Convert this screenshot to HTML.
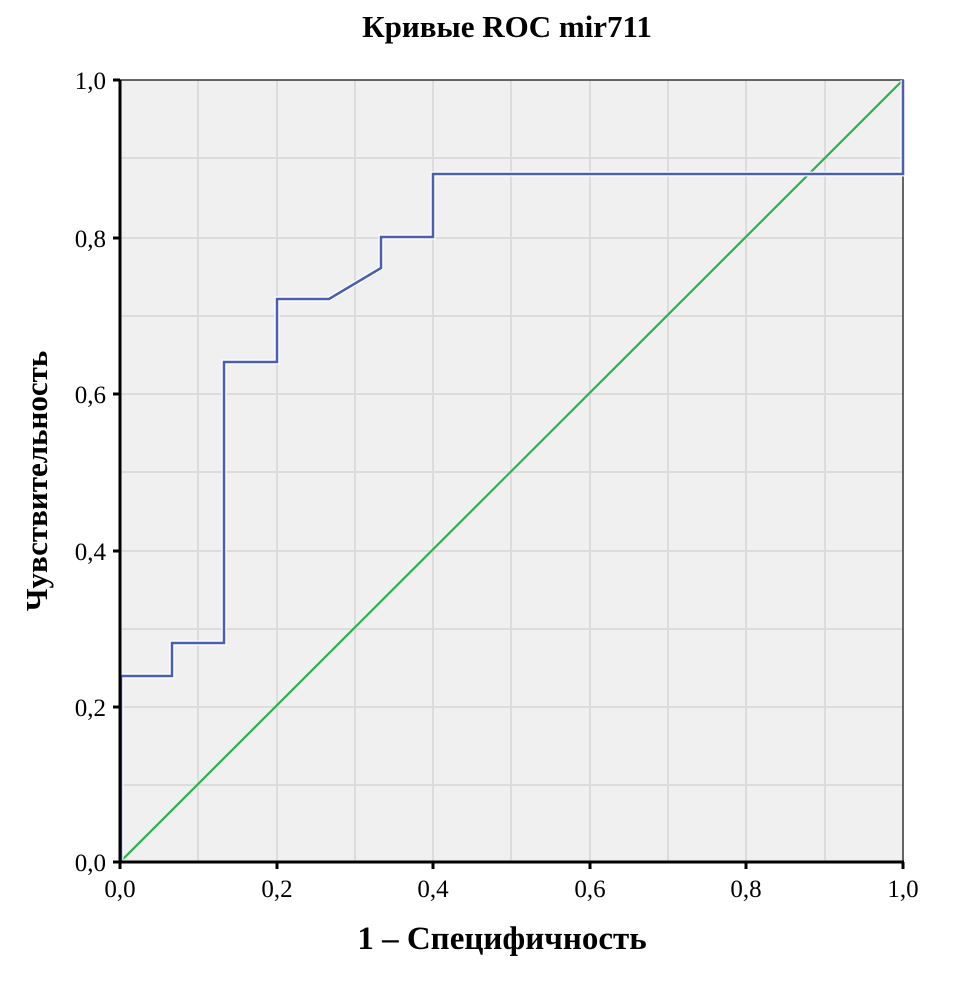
<!DOCTYPE html><html><head><style>body{margin:0;background:#fff}</style></head><body>
<svg width="980" height="976" xmlns="http://www.w3.org/2000/svg" font-family="Liberation Serif, serif">
<rect width="980" height="976" fill="#fff"/>
<text x="507" y="37" text-anchor="middle" font-size="31" font-weight="bold">Кривые ROC mir711</text>
<rect x="120" y="80" width="783" height="782" fill="#f0f0f0"/>
<g stroke="#dcdcdc" stroke-width="2">
<line x1="198" y1="80" x2="198" y2="862"/><line x1="277" y1="80" x2="277" y2="862"/><line x1="355" y1="80" x2="355" y2="862"/><line x1="433" y1="80" x2="433" y2="862"/><line x1="511" y1="80" x2="511" y2="862"/><line x1="590" y1="80" x2="590" y2="862"/><line x1="668" y1="80" x2="668" y2="862"/><line x1="746" y1="80" x2="746" y2="862"/><line x1="825" y1="80" x2="825" y2="862"/>
<line x1="120" y1="158" x2="903" y2="158"/><line x1="120" y1="238" x2="903" y2="238"/><line x1="120" y1="316" x2="903" y2="316"/><line x1="120" y1="394" x2="903" y2="394"/><line x1="120" y1="472" x2="903" y2="472"/><line x1="120" y1="551" x2="903" y2="551"/><line x1="120" y1="629" x2="903" y2="629"/><line x1="120" y1="707" x2="903" y2="707"/><line x1="120" y1="785" x2="903" y2="785"/>
</g>
<rect x="120" y="80" width="783" height="782" fill="none" stroke="#333" stroke-width="1.5"/>
<line x1="120" y1="862" x2="903" y2="80" stroke="#2ab34a" stroke-width="2.2"/>
<polyline points="121,862 121,676 172,676 172,643 224,643 224,362 277,362 277,299 329,299 381,268 381,237 433,237 433,174 903,174 903,80" fill="none" stroke="#fff" stroke-width="5"/>
<polyline points="121,862 121,676 172,676 172,643 224,643 224,362 277,362 277,299 329,299 381,268 381,237 433,237 433,174 903,174 903,80" fill="none" stroke="#4a5fb0" stroke-width="2.5"/>
<g stroke="#000" stroke-width="3">
<line x1="120" y1="80" x2="120" y2="863"/><line x1="119" y1="862" x2="904" y2="862"/>
<line x1="113" y1="80" x2="120" y2="80"/><line x1="113" y1="238" x2="120" y2="238"/><line x1="113" y1="394" x2="120" y2="394"/><line x1="113" y1="551" x2="120" y2="551"/><line x1="113" y1="707" x2="120" y2="707"/><line x1="113" y1="862" x2="120" y2="862"/>
<line x1="120" y1="862" x2="120" y2="869"/><line x1="277" y1="862" x2="277" y2="869"/><line x1="433" y1="862" x2="433" y2="869"/><line x1="590" y1="862" x2="590" y2="869"/><line x1="746" y1="862" x2="746" y2="869"/><line x1="903" y1="862" x2="903" y2="869"/>
</g>
<g font-size="25" text-anchor="end">
<text x="106" y="89">1,0</text><text x="106" y="247">0,8</text><text x="106" y="403">0,6</text><text x="106" y="560">0,4</text><text x="106" y="716">0,2</text><text x="106" y="871">0,0</text>
</g>
<g font-size="25" text-anchor="middle">
<text x="120" y="897">0,0</text><text x="277" y="897">0,2</text><text x="433" y="897">0,4</text><text x="590" y="897">0,6</text><text x="746" y="897">0,8</text><text x="903" y="897">1,0</text>
</g>
<text x="502" y="949" text-anchor="middle" font-size="33" font-weight="bold">1 – Специфичность</text>
<text transform="translate(47,481) rotate(-90)" text-anchor="middle" font-size="31" font-weight="bold">Чувствительность</text>
</svg></body></html>
